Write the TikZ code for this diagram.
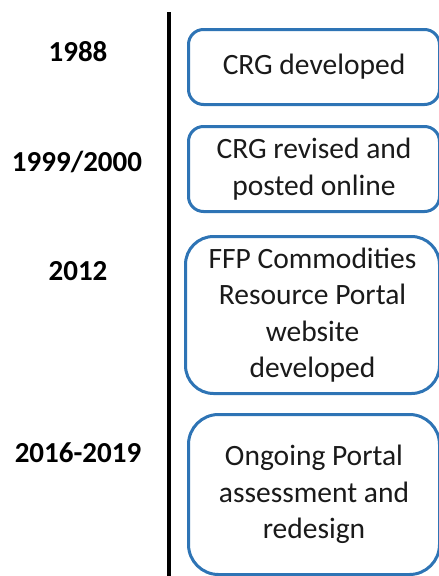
\documentclass[tikz,border=0pt]{standalone}
\usepackage{fontspec}
\setmainfont{Carlito}
\definecolor{boxblue}{HTML}{2E74B5}
\definecolor{txt}{HTML}{1A1A1A}
\begin{document}
\begin{tikzpicture}[x=1pt,y=-1pt,
  yearlbl/.style={font=\fontsize{29}{35}\selectfont\bfseries, text=black, inner sep=0pt},
  evbox/.style={draw=boxblue, line width=3pt, fill=white, text=txt, align=center,
    font=\fontsize{29.5}{36.5}\selectfont, inner sep=0pt, anchor=north west}]
\useasboundingbox (0,0) rectangle (439,576);
\coordinate (ltop) at (169,12);
\coordinate (lbot) at (169,576);
\draw[line width=3.5pt] (ltop) -- (lbot);
\node[yearlbl] (y1) at (78,52) {1988};
\node[yearlbl] (y2) at (77,162) {1999/2000};
\node[yearlbl] (y3) at (78,271) {2012};
\node[yearlbl] (y4) at (78,453) {2016-2019};
\node[evbox, minimum width=251pt, minimum height=75pt, rounded corners=15pt] (b1) at (187,28) {CRG developed};
\node[evbox, minimum width=251pt, minimum height=85pt, rounded corners=15pt] (b2) at (187,125) {CRG revised and\\posted online};
\node[evbox, minimum width=254pt, minimum height=157pt, rounded corners=28pt] (b3) at (184,235) {FFP Commodities\\Resource Portal\\website\\developed};
\node[evbox, minimum width=251pt, minimum height=160pt, rounded corners=30pt] (b4) at (187,413) {Ongoing Portal\\assessment and\\redesign};
\end{tikzpicture}
\end{document}
